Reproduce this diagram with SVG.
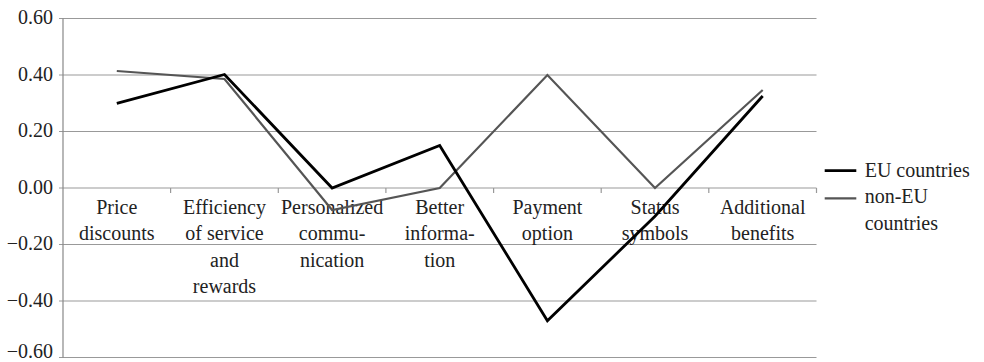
<svg xmlns="http://www.w3.org/2000/svg" width="984" height="362" viewBox="0 0 984 362">
<style>
text{font-family:'Liberation Serif','DejaVu Serif','Noto Serif',serif;font-size:20px;fill:#222}
.grid{stroke:#999;stroke-width:1.2;fill:none}
.axis{stroke:#888;stroke-width:1.2;fill:none}
.ylab{text-anchor:end}
.xlab{text-anchor:middle}
.eu{stroke:#000;stroke-width:2.8;fill:none;stroke-linejoin:miter}
.noneu{stroke:#555;stroke-width:2.2;fill:none;stroke-linejoin:miter}
</style>
<rect width="984" height="362" fill="#fff"/>
<g id="grid">
<path class="grid" d="M59 18.5H816.5M59 75H816.5M59 131.5H816.5M59 188H816.5M59 244.5H816.5M59 301H816.5M59 357.5H816.5"/>
<path class="axis" d="M63 18.5V357.5"/>
<path class="grid" d="M170.6 188v5M278.3 188v5M385.9 188v5M493.6 188v5M601.2 188v5M708.8 188v5M816.5 188v5"/>
</g>
<g id="y-axis-labels">
<text class="ylab" x="53" y="24">0.60</text>
<text class="ylab" x="53" y="80.5">0.40</text>
<text class="ylab" x="53" y="137">0.20</text>
<text class="ylab" x="53" y="193.5">0.00</text>
<text class="ylab" x="53" y="250">−0.20</text>
<text class="ylab" x="53" y="306.5">−0.40</text>
<text class="ylab" x="53" y="357.5">−0.60</text>
</g>
<g id="x-axis-labels">
<text class="xlab" x="116.8" y="213.5">Price</text>
<text class="xlab" x="116.8" y="240">discounts</text>
<text class="xlab" x="224.5" y="213.5">Efficiency</text>
<text class="xlab" x="224.5" y="240">of service</text>
<text class="xlab" x="224.5" y="266.5">and</text>
<text class="xlab" x="224.5" y="293">rewards</text>
<text class="xlab" x="332.1" y="213.5">Personalized</text>
<text class="xlab" x="332.1" y="240">commu-</text>
<text class="xlab" x="332.1" y="266.5">nication</text>
<text class="xlab" x="439.7" y="213.5">Better</text>
<text class="xlab" x="439.7" y="240">informa-</text>
<text class="xlab" x="439.7" y="266.5">tion</text>
<text class="xlab" x="547.4" y="213.5">Payment</text>
<text class="xlab" x="547.4" y="240">option</text>
<text class="xlab" x="655" y="213.5">Status</text>
<text class="xlab" x="655" y="240">symbols</text>
<text class="xlab" x="762.7" y="213.5">Additional</text>
<text class="xlab" x="762.7" y="240">benefits</text>
</g>
<g id="series">
<polyline id="non-eu-countries" class="noneu" points="116.8,71 224.5,79 332.1,210 439.7,188 547.4,75 655,188 762.7,90"/>
<polyline id="eu-countries" class="eu" points="116.8,103.3 224.5,74.5 332.1,188 439.7,145.5 547.4,320.7 655,216.3 762.7,96"/>
</g>
<g id="legend">
<path class="eu" d="M824.7 170.7H856.3"/>
<text x="864.7" y="177">EU countries</text>
<path class="noneu" d="M824.7 198.3H856.3"/>
<text x="864.7" y="203">non-EU</text>
<text x="864.7" y="230">countries</text>
</g>
</svg>
